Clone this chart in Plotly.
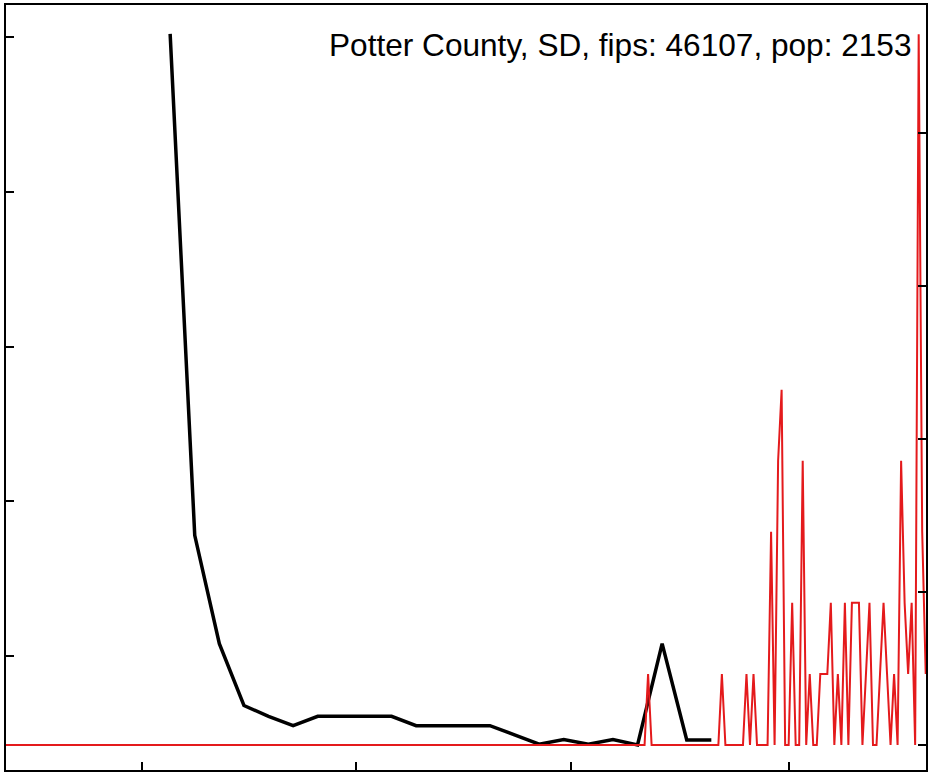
import pandas as pd
import plotly.graph_objects as go

# ---- data ----
TITLE = "Potter County, SD, fips: 46107, pop: 2153"
POP = 2153

# daily new cases (red), starting 2020-01-22
red_start = "2020-01-22"
red_cases = (
    [0] * 183 +                      # Jan 22 .. Jul 22
    [1] +                            # Jul 23
    [0] * 20 +
    [1, 0, 0, 0, 0, 0, 0, 1, 0, 1,
     0, 0, 0, 0, 3, 0, 4, 5, 0, 0,
     2, 0, 0, 4, 0, 1, 0, 0, 1, 1,
     1, 2, 0, 1, 0, 2, 0, 2, 2, 2,
     0, 1, 2, 0, 0, 1, 2, 1, 0, 1,
     0, 4, 2, 1, 2, 0, 10, 3, 1]
)

# weekly series (black), starting 2020-03-09
black_start = "2020-03-09"
black_vals = [5.02, 1.78, 1.08, 0.68, 0.61, 0.55, 0.61, 0.61, 0.61, 0.61,
              0.55, 0.55, 0.55, 0.55, 0.49, 0.43, 0.46, 0.43, 0.46, 0.425,
              1.08, 0.457, 0.457]

x_tick_dates = ["2020-03-01", "2020-05-01", "2020-07-01", "2020-09-01"]
left_ticks = [1, 2, 3, 4, 5]
right_ticks = [0, 100, 200, 300, 400]

# ---- build ----
red_dates = pd.date_range(red_start, periods=len(red_cases), freq="D")
red_rate = [c * 100000 / POP for c in red_cases]
black_dates = pd.date_range(black_start, periods=len(black_vals), freq="7D")

fig = go.Figure()
fig.add_trace(go.Scatter(x=black_dates, y=black_vals, mode="lines",
                         line=dict(color="black", width=3.5), yaxis="y",
                         showlegend=False))
fig.add_trace(go.Scatter(x=red_dates, y=red_rate, mode="lines",
                         line=dict(color="#e41a1c", width=2), yaxis="y2",
                         showlegend=False))

axis_common = dict(showgrid=False, zeroline=False, showticklabels=False,
                   ticks="inside", ticklen=8, tickwidth=1.5, tickcolor="black",
                   showline=True, linecolor="black", linewidth=1.6)

fig.update_layout(
    width=928, height=774,
    margin=dict(l=6, r=2, t=5, b=4),
    paper_bgcolor="white", plot_bgcolor="white",
    xaxis=dict(type="date", range=["2020-01-22 07:00", "2020-10-10 02:00"],
               tickvals=x_tick_dates, mirror=True, **axis_common),
    yaxis=dict(range=[0.2633, 5.2068], tickvals=left_ticks, **axis_common),
    yaxis2=dict(range=[-16.34, 483.66], tickvals=right_ticks, overlaying="y",
                side="right", **axis_common),
    annotations=[dict(text=TITLE, xref="paper", yref="paper", x=0.987, y=0.948,
                      xanchor="right", yanchor="middle", showarrow=False,
                      font=dict(family="Liberation Sans, Arial", size=31.6,
                                color="black"))],
)

fig.write_html("out.html",
               config={"displayModeBar": False},
               post_script="document.body.style.margin='0px';"
                           "document.body.style.overflow='hidden';")
